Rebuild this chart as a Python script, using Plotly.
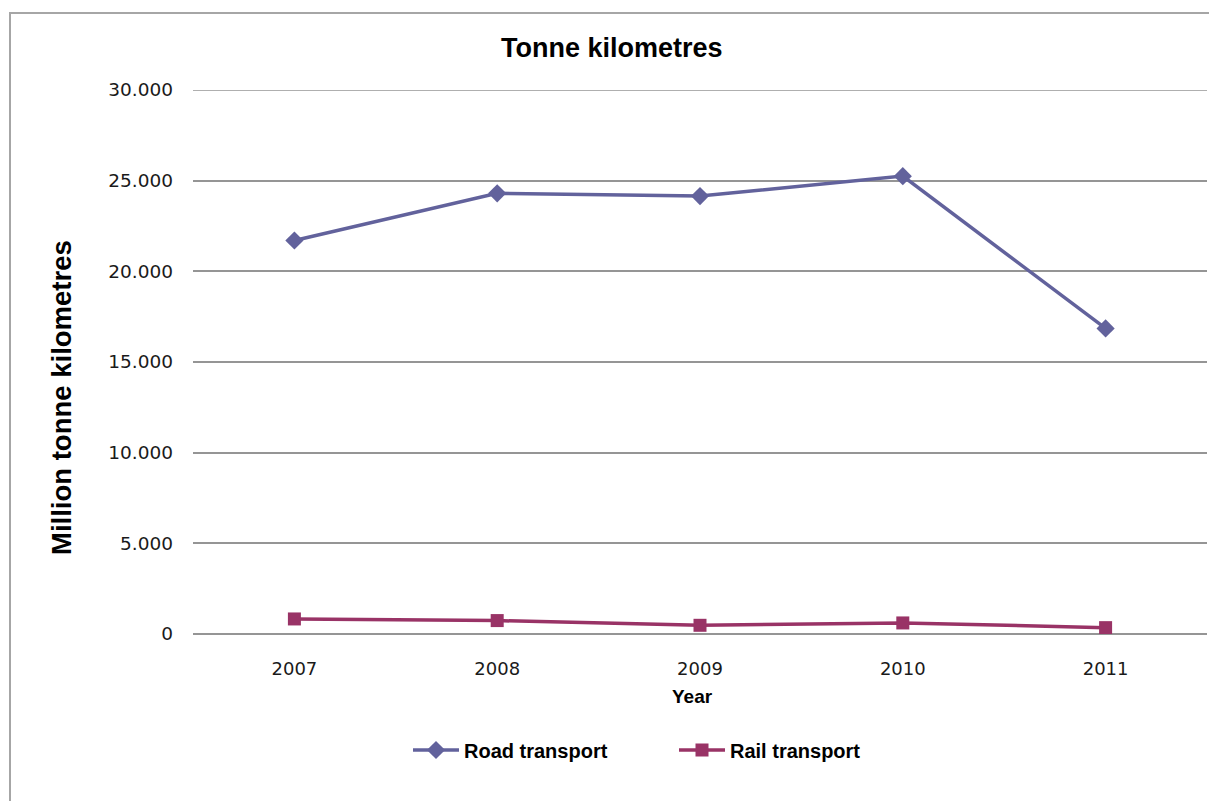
import plotly.graph_objects as go

years = ["2007", "2008", "2009", "2010", "2011"]
road_transport = [21700, 24300, 24150, 25250, 16850]
rail_transport = [830, 740, 480, 610, 350]
y_ticks = [0, 5000, 10000, 15000, 20000, 25000, 30000]

ROAD_COLOR = "#62629c"
RAIL_COLOR = "#993366"
GRID = "#959595"

# page body has an 8px margin, so the plot area is placed 8px up/left
L, T, W, H = 185, 82, 1014, 544

fig = go.Figure()
fig.add_trace(go.Scatter(
    x=years, y=road_transport, name="Road transport", mode="lines+markers",
    line=dict(color=ROAD_COLOR, width=3.5),
    marker=dict(symbol="diamond", size=14, color=ROAD_COLOR),
))
fig.add_trace(go.Scatter(
    x=years, y=rail_transport, name="Rail transport", mode="lines+markers",
    line=dict(color=RAIL_COLOR, width=3.5),
    marker=dict(symbol="square", size=13, color=RAIL_COLOR),
))


def px(x):
    return (x - 8 - L) / W


def py(y):
    return (T + H - (y - 8)) / H


fig.update_layout(
    width=1217, height=801,
    margin=dict(l=L, r=1217 - L - W, t=T, b=801 - T - H),
    paper_bgcolor="white", plot_bgcolor="white",
    separators=",.",
    font=dict(family="DejaVu Sans", color="#1a1a1a"),
    showlegend=True,
    legend=dict(
        orientation="h", x=px(408), y=py(750), xanchor="left", yanchor="middle",
        font=dict(family="Liberation Sans", size=20, color="black", weight="bold"),
        entrywidth=205, entrywidthmode="pixels", itemwidth=46,
    ),
    annotations=[
        dict(text="<b>Tonne kilometres</b>", xref="paper", yref="paper",
             x=px(612), y=py(48), xanchor="center", yanchor="middle",
             showarrow=False, font=dict(family="Liberation Sans", size=27, color="black")),
        dict(text="<b>Million tonne kilometres</b>", xref="paper", yref="paper",
             x=px(61), y=py(398), xanchor="center", yanchor="middle",
             textangle=-90, showarrow=False,
             font=dict(family="Liberation Sans", size=27.5, color="black")),
        dict(text="<b>Year</b>", xref="paper", yref="paper",
             x=px(692), y=py(696), xanchor="center", yanchor="middle",
             showarrow=False, font=dict(family="Liberation Sans", size=19, color="black")),
    ],
    shapes=[
        dict(type="rect", xref="paper", yref="paper",
             x0=px(10), x1=1.2, y0=-0.6, y1=py(13),
             line=dict(color="#a6a6a6", width=2), fillcolor="rgba(0,0,0,0)", layer="below"),
        # top gridline (plotly drops the one sitting on the range edge)
        dict(type="line", xref="paper", yref="y", x0=0, x1=1,
             y0=y_ticks[-1], y1=y_ticks[-1],
             line=dict(color=GRID, width=1.5), layer="below"),
    ],
)

fig.update_xaxes(
    type="category", range=[-0.5, 4.5], showgrid=False, zeroline=False,
    showline=False, ticks="", ticklabelstandoff=22,
    tickfont=dict(size=18, color="#1a1a1a"),
)
fig.update_yaxes(
    range=[0, 30000], tickvals=y_ticks, tickformat=",d",
    showgrid=True, gridcolor=GRID, gridwidth=1.5,
    zeroline=True, zerolinecolor=GRID, zerolinewidth=1.5,
    showline=False, ticks="", ticklabelstandoff=19,
    tickfont=dict(size=18.5, color="#1a1a1a"),
)

fig.write_html("out.html")
